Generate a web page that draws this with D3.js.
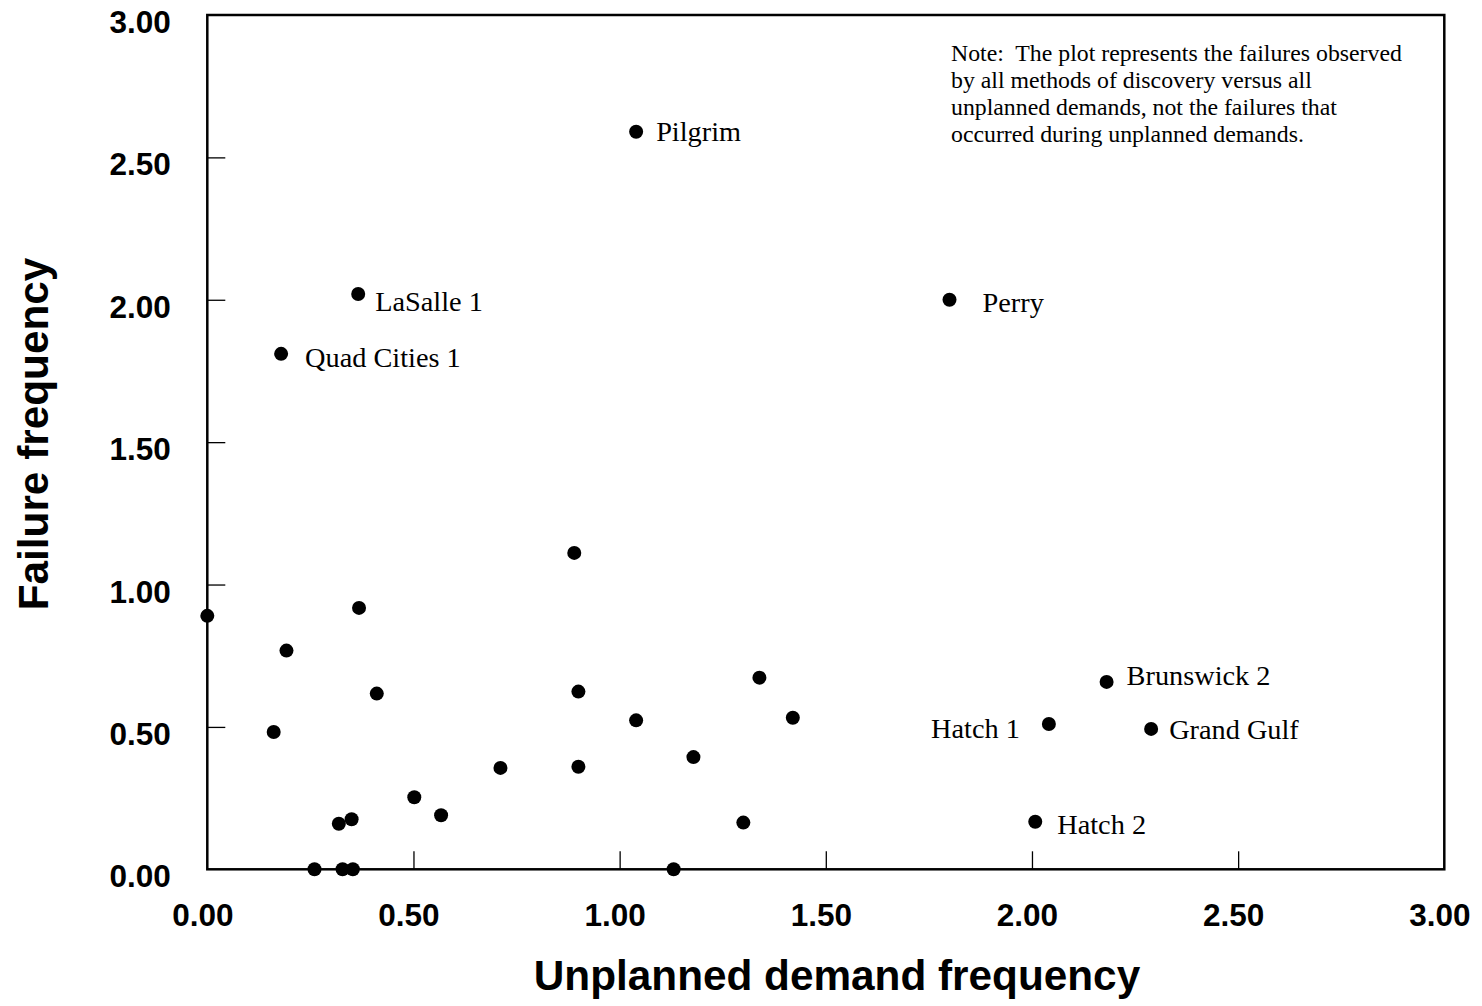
<!DOCTYPE html>
<html>
<head>
<meta charset="utf-8">
<script src="https://cdn.jsdelivr.net/npm/d3@7"></script>
<style>
  html, body { margin: 0; padding: 0; background: #fff; }
  svg { display: block; }
</style>
</head>
<body>
<svg id="chart" width="1482" height="1006"></svg>
<script>
// ---- Data ----
const plantNames = [
  "Pilgrim", "LaSalle 1", "Perry", "Quad Cities 1",
  "Brunswick 2", "Hatch 1", "Grand Gulf", "Hatch 2",
  "", "", "", "", "", "", "", "", "", "", "", "",
  "", "", "", "", "", "", "", "", "", ""
];
const demandFreq = [
  1.040, 0.366, 1.800, 0.179,
  2.181, 2.041, 2.289, 2.008,
  0.890, 0.000, 0.368, 0.192, 0.411, 0.161, 0.319, 0.350,
  0.260, 0.328, 0.353, 0.502, 0.567, 0.711, 0.900, 0.900,
  1.040, 1.179, 1.131, 1.339, 1.420, 1.300
];
const failureFreq = [
  2.590, 2.020, 2.000, 1.810,
  0.658, 0.510, 0.493, 0.167,
  1.111, 0.890, 0.918, 0.768, 0.617, 0.482, 0.160, 0.176,
  0.000, 0.000, 0.000, 0.253, 0.190, 0.356, 0.624, 0.360,
  0.523, 0.394, 0.000, 0.673, 0.532, 0.164
];
const tickValues = [0, 0.5, 1.0, 1.5, 2.0, 2.5, 3.0];
const tickLabels = ["0.00", "0.50", "1.00", "1.50", "2.00", "2.50", "3.00"];
const xTitle = "Unplanned demand frequency";
const yTitle = "Failure frequency";
const noteLines = [
  "Note:  The plot represents the failures observed",
  "by all methods of discovery versus all",
  "unplanned demands, not the failures that",
  "occurred during unplanned demands."
];

// ---- Label placement (style, not data) ----
const labelPlacement = {
  "Pilgrim":       { dx: 20,  dy: 9.5, anchor: "start" },
  "LaSalle 1":     { dx: 17,  dy: 17,  anchor: "start" },
  "Perry":         { dx: 33,  dy: 12.5, anchor: "start" },
  "Quad Cities 1": { dx: 24,  dy: 13.5, anchor: "start" },
  "Brunswick 2":   { dx: 20,  dy: 3,   anchor: "start" },
  "Hatch 1":       { dx: -29, dy: 14,  anchor: "end" },
  "Grand Gulf":    { dx: 18,  dy: 10,  anchor: "start" },
  "Hatch 2":       { dx: 22,  dy: 12.5, anchor: "start" }
};

const points = demandFreq.map((d, i) => ({ x: d, y: failureFreq[i], name: plantNames[i] || "" }));

const sansBold = "'Liberation Sans', Arial, Helvetica, sans-serif";
const serif = "'Liberation Serif', 'Times New Roman', Times, serif";

const svg = d3.select("#chart");
const plotLeft = 207.3, plotRight = 1444.3, plotTop = 15, plotBottom = 869.3;

const x = d3.scaleLinear().domain([0, 3]).range([plotLeft, plotRight]);
const y = d3.scaleLinear().domain([0, 3]).range([plotBottom, plotTop]);

// Frame
svg.append("rect")
  .attr("x", plotLeft).attr("y", plotTop)
  .attr("width", plotRight - plotLeft).attr("height", plotBottom - plotTop)
  .attr("fill", "none").attr("stroke", "#000").attr("stroke-width", 2.5);

// X axis
const xAxis = d3.axisBottom(x)
  .tickValues(tickValues)
  .tickFormat((d, i) => tickLabels[i])
  .tickSize(-18)
  .tickSizeOuter(0);
const gx = svg.append("g").attr("transform", `translate(0,${plotBottom})`).call(xAxis);
gx.select(".domain").remove();
gx.selectAll(".tick line").attr("stroke", "#000").attr("stroke-width", 1.3)
  .attr("display", d => (d === 0 || d === 3) ? "none" : null);
gx.selectAll(".tick text")
  .attr("x", -5).attr("y", 56.7).attr("dy", null)
  .attr("fill", "#000")
  .style("font-family", sansBold).style("font-weight", "bold").style("font-size", "31.5px");

// Y axis
const yAxis = d3.axisLeft(y)
  .tickValues(tickValues)
  .tickFormat((d, i) => tickLabels[i])
  .tickSize(-18)
  .tickSizeOuter(0);
const gy = svg.append("g").attr("transform", `translate(${plotLeft},0)`).call(yAxis);
gy.select(".domain").remove();
gy.selectAll(".tick line").attr("stroke", "#000").attr("stroke-width", 1.3)
  .attr("display", d => (d === 0 || d === 3) ? "none" : null);
gy.selectAll(".tick text")
  .attr("x", -36.5).attr("y", 17.5).attr("dy", null)
  .attr("text-anchor", "end")
  .attr("fill", "#000")
  .style("font-family", sansBold).style("font-weight", "bold").style("font-size", "31.5px");

// Axis titles
svg.append("text")
  .attr("x", 837).attr("y", 990)
  .attr("text-anchor", "middle")
  .style("font-family", sansBold).style("font-weight", "bold").style("font-size", "42.3px")
  .text(xTitle);

svg.append("text")
  .attr("transform", "translate(48,434) rotate(-90)")
  .attr("text-anchor", "middle")
  .style("font-family", sansBold).style("font-weight", "bold").style("font-size", "42.3px")
  .text(yTitle);

// Points
svg.append("g").selectAll("circle")
  .data(points)
  .join("circle")
  .attr("cx", d => x(d.x))
  .attr("cy", d => y(d.y))
  .attr("r", 7)
  .attr("fill", "#000");

// Labels
svg.append("g").selectAll("text")
  .data(points.filter(d => d.name))
  .join("text")
  .attr("x", d => x(d.x) + labelPlacement[d.name].dx)
  .attr("y", d => y(d.y) + labelPlacement[d.name].dy)
  .attr("text-anchor", d => labelPlacement[d.name].anchor)
  .style("font-family", serif).style("font-size", "28.3px")
  .text(d => d.name);

// Note
const note = svg.append("text")
  .style("font-family", serif).style("font-size", "23.8px")
  .style("white-space", "pre")
  .attr("xml:space", "preserve");
noteLines.forEach((line, i) => {
  note.append("tspan").attr("x", 951).attr("y", 61 + i * 27).text(line);
});
</script>
</body>
</html>
